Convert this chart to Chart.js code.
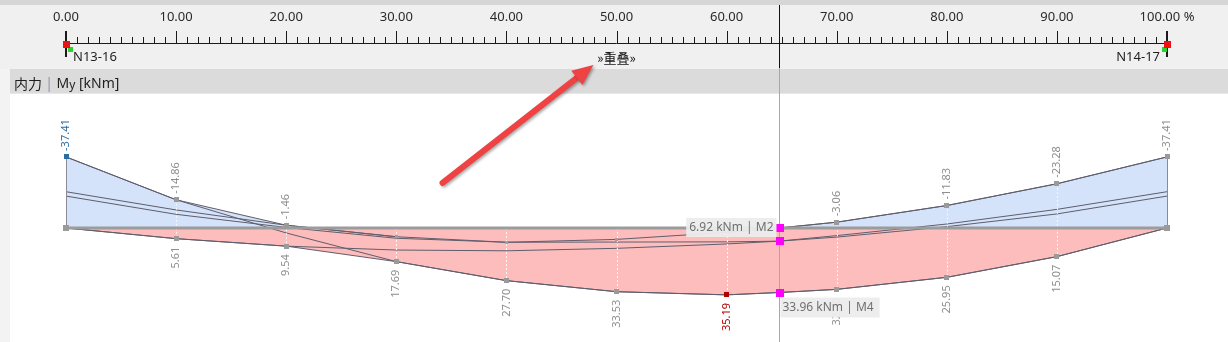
<!DOCTYPE html>
<html lang="zh">
<head>
<meta charset="utf-8">
<title>内力 | My [kNm]</title>
<script src="https://cdn.jsdelivr.net/npm/chart.js@4.4.1/dist/chart.umd.min.js"></script>
<style>
  html, body { margin: 0; padding: 0; background: #fff; overflow: hidden; }
  canvas { display: block; }
</style>
</head>
<body>
<canvas id="momentChart" width="1228" height="342"></canvas>
<script>
// positions along the member in % (64.75 is where the cursor sits)
const positions = [0, 10, 20, 30, 40, 50, 60, 64.75, 70, 80, 90, 100];

// load case moments My [kNm]
const caseM1 = [-19.1, -9.5, -1.46, 4.6, 7.5, 6.0, 2.3, 0, -3.06, -11.83, -23.28, -37.41];
const caseM2 = [0, 5.61, 9.54, 11.6, 12.0, 10.7, 8.4, 6.92, 4.8, -0.7, -7.4, -16.8];
const caseM3 = [-16.8, -7.2, -0.3, 5.4, 7.5, 7.4, 7.3, 6.92, 4.0, -2.1, -9.8, -19.1];
const caseM4 = [-37.41, -14.86, 2.6, 17.69, 27.70, 33.53, 35.19, 33.96, 32.3, 25.95, 15.07, 0];

// envelope
const envelopeMin = [-37.41, -14.86, -1.46, 4.6, 7.5, 6.0, 2.3, 0, -3.06, -11.83, -23.28, -37.41];
const envelopeMax = [0, 5.61, 9.54, 17.69, 27.70, 33.53, 35.19, 33.96, 32.3, 25.95, 15.07, 0];

// cursor read-out
const cursorPos = 64.75;
const cursorValues = [0, 6.92, 33.96];
const cursorCases = ['', 'M2', 'M4'];

// top ruler
const rulerTicks = [0, 10, 20, 30, 40, 50, 60, 70, 80, 90, 100];
const rulerLabels = ['0.00', '10.00', '20.00', '30.00', '40.00', '50.00', '60.00', '70.00', '80.00', '90.00', '100.00 %'];
const nodeNames = ['N13-16', 'N14-17'];

// callout arrow, in chart units [position %, kNm]
const arrowFrom = [34.2, -23.7];
const arrowTo = [47.9, -85.8];

const FONT = '"Noto Sans", "Noto Sans CJK SC", sans-serif';
const CJK = '"Noto Sans CJK SC", "Noto Sans", sans-serif';
const LINE = '#5e5e6c';
const BLUE_FILL = '#d4e2fa';
const RED_FILL = '#fdbdbd';

function toPoints(values) {
    return positions.map((p, i) => ({ x: p, y: values[i] }));
}

function square(ctx, x, y, size, color) {
    ctx.fillStyle = color;
    ctx.fillRect(Math.round(x - size / 2), Math.round(y - size / 2), size, size);
}

function rotatedLabel(ctx, text, x, y, align, color) {
    ctx.save();
    ctx.translate(x, y);
    ctx.rotate(-Math.PI / 2);
    ctx.textAlign = align;
    ctx.textBaseline = 'middle';
    ctx.fillStyle = color;
    ctx.fillText(text, 0, 0);
    ctx.restore();
}

const framePlugin = {
    id: 'frame',
    beforeDraw(chart) {
        const { ctx, width, height } = chart;
        const xs = chart.scales.x;
        ctx.save();
        // panels
        ctx.fillStyle = '#f0f0f0';
        ctx.fillRect(0, 0, width, height);
        ctx.fillStyle = '#d6d6d6';
        ctx.fillRect(0, 0, width, 5);
        ctx.fillStyle = '#f3f3f3';
        ctx.fillRect(0, 69, 10, height - 69);
        ctx.fillStyle = '#dbdbdb';
        ctx.fillRect(10, 69, width - 10, 24);
        ctx.fillStyle = '#e8e8e8';
        ctx.fillRect(10, 93, width - 10, 1);
        ctx.fillStyle = '#ffffff';
        ctx.fillRect(10, 94, width - 10, height - 94);

        // header text
        ctx.textBaseline = 'middle';
        ctx.textAlign = 'left';
        let tx = 14;
        const ty = 84;
        ctx.font = '14px ' + CJK;
        ctx.fillStyle = '#1e1e1e';
        ctx.fillText('内力 ', tx, ty);
        tx += ctx.measureText('内力 ').width;
        ctx.font = '14px ' + FONT;
        ctx.fillStyle = '#8f9aa8';
        ctx.fillText('|', tx, ty);
        tx += ctx.measureText('| ').width;
        ctx.fillStyle = '#1e1e1e';
        ctx.fillText('M', tx, ty);
        tx += ctx.measureText('M').width;
        ctx.font = '12px ' + FONT;
        ctx.fillText('y', tx, ty + 2);
        tx += ctx.measureText('y').width;
        ctx.font = '14px ' + FONT;
        ctx.fillText(' [kNm]', tx, ty);

        // ruler
        const x0 = xs.getPixelForValue(rulerTicks[0]);
        const x1 = xs.getPixelForValue(rulerTicks[rulerTicks.length - 1]);
        ctx.strokeStyle = '#1a1a1a';
        ctx.lineWidth = 1;
        ctx.beginPath();
        ctx.moveTo(x0, 43.5);
        ctx.lineTo(x1, 43.5);
        for (let p = rulerTicks[0]; p <= rulerTicks[rulerTicks.length - 1]; p++) {
            const px = Math.round(xs.getPixelForValue(p)) + 0.5;
            const top = p % 10 === 0 ? 31 : 37;
            ctx.moveTo(px, top);
            ctx.lineTo(px, 43.5);
        }
        ctx.stroke();
        ctx.lineWidth = 2;
        ctx.beginPath();
        [x0, x1].forEach(px => {
            ctx.moveTo(Math.round(px), 31);
            ctx.lineTo(Math.round(px), 57);
        });
        ctx.stroke();

        ctx.font = '13px ' + FONT;
        ctx.fillStyle = '#2a2a2a';
        ctx.textAlign = 'center';
        rulerTicks.forEach((t, i) => {
            ctx.fillText(rulerLabels[i], xs.getPixelForValue(t), 17);
        });

        // node markers
        square(ctx, x0 + 4, 49, 5, '#2fd12f');
        square(ctx, x1 - 3, 49, 5, '#2fd12f');
        square(ctx, x0, 44, 7, '#f01010');
        square(ctx, x1, 44, 7, '#f01010');
        ctx.fillStyle = '#1e1e1e';
        ctx.textAlign = 'left';
        ctx.fillText(nodeNames[0], x0 + 7, 57);
        ctx.textAlign = 'right';
        ctx.fillText(nodeNames[1], x1 - 7, 57);

        ctx.font = '13px ' + CJK;
        ctx.textAlign = 'center';
        ctx.fillStyle = '#111';
        ctx.fillText('»重叠»', xs.getPixelForValue(50), 58);
        ctx.restore();
    },
    afterDatasetsDraw(chart) {
        const { ctx, height } = chart;
        const xs = chart.scales.x;
        const ys = chart.scales.y;
        const y0 = ys.getPixelForValue(0);
        const first = 0;
        const last = positions.length - 1;
        const cursorIndex = positions.indexOf(cursorPos);
        ctx.save();

        // dotted ordinates
        ctx.strokeStyle = 'rgba(250,250,250,0.95)';
        ctx.lineWidth = 1;
        ctx.setLineDash([2, 2]);
        ctx.beginPath();
        positions.forEach((p, i) => {
            if (i === first || i === last || i === cursorIndex) return;
            const px = Math.round(xs.getPixelForValue(p)) + 0.5;
            const lo = Math.min(envelopeMin[i], 0);
            ctx.moveTo(px, ys.getPixelForValue(lo));
            ctx.lineTo(px, ys.getPixelForValue(envelopeMax[i]));
        });
        ctx.stroke();
        ctx.setLineDash([]);

        // end ordinates
        ctx.strokeStyle = '#8a8a98';
        ctx.beginPath();
        [first, last].forEach(i => {
            const px = Math.round(xs.getPixelForValue(positions[i])) + 0.5;
            ctx.moveTo(px, ys.getPixelForValue(envelopeMin[i]));
            ctx.lineTo(px, y0);
        });
        ctx.stroke();

        // member axis
        ctx.strokeStyle = '#9c9c9c';
        ctx.lineWidth = 3;
        ctx.beginPath();
        ctx.moveTo(xs.getPixelForValue(positions[first]), y0);
        ctx.lineTo(xs.getPixelForValue(positions[last]), y0);
        ctx.stroke();

        // cursor line
        const cx = Math.round(xs.getPixelForValue(cursorPos)) + 0.5;
        ctx.lineWidth = 1;
        ctx.strokeStyle = '#111';
        ctx.beginPath();
        ctx.moveTo(cx, 5);
        ctx.lineTo(cx, 68);
        ctx.stroke();
        ctx.strokeStyle = '#a8a8a8';
        ctx.beginPath();
        ctx.moveTo(cx, 68);
        ctx.lineTo(cx, height);
        ctx.stroke();

        // points and value labels
        const minVal = Math.min(...envelopeMin);
        const maxVal = Math.max(...envelopeMax);
        let minDone = false;
        let maxDone = false;
        ctx.font = '11px ' + FONT;
        square(ctx, xs.getPixelForValue(positions[first]), y0, 6, '#9a9a9a');
        square(ctx, xs.getPixelForValue(positions[last]), y0, 6, '#9a9a9a');
        positions.forEach((p, i) => {
            if (i === cursorIndex) return;
            const px = xs.getPixelForValue(p);
            const vMin = envelopeMin[i];
            if (vMin < 0) {
                const py = ys.getPixelForValue(vMin);
                let color = '#8e8e8e';
                if (vMin === minVal && !minDone) { color = '#2b6ca3'; minDone = true; }
                square(ctx, px, py, 5, color === '#8e8e8e' ? '#9a9a9a' : color);
                rotatedLabel(ctx, vMin.toFixed(2), px, py - 6, 'left', color);
            } else if (vMin > 0) {
                square(ctx, px, ys.getPixelForValue(vMin), 3, '#a0a0a0');
            }
            const vMax = envelopeMax[i];
            if (vMax > 0) {
                const py = ys.getPixelForValue(vMax);
                let color = '#8e8e8e';
                if (vMax === maxVal && !maxDone) { color = '#b30000'; maxDone = true; }
                square(ctx, px, py, 5, color === '#8e8e8e' ? '#9a9a9a' : color);
                rotatedLabel(ctx, vMax.toFixed(2), px, py + 8, 'right', color);
            }
        });

        // cursor read-out
        cursorValues.forEach(v => square(ctx, cx, ys.getPixelForValue(v), 8, '#ff00ff'));
        ctx.font = '12px ' + FONT;
        ctx.textBaseline = 'middle';
        const tagA = cursorValues[1].toFixed(2) + ' kNm | ' + cursorCases[1];
        const wA = ctx.measureText(tagA).width + 6;
        const yA = ys.getPixelForValue(cursorValues[0]);
        ctx.fillStyle = 'rgba(236,236,236,0.95)';
        ctx.fillRect(cx - 3 - wA, yA - 10, wA, 19);
        ctx.fillStyle = '#707070';
        ctx.textAlign = 'left';
        ctx.fillText(tagA, cx - 3 - wA + 3, yA);
        const tagB = cursorValues[2].toFixed(2) + ' kNm | ' + cursorCases[2];
        const wB = ctx.measureText(tagB).width + 8;
        const yB = ys.getPixelForValue(cursorValues[2]) + 5;
        ctx.fillStyle = 'rgba(236,236,236,0.95)';
        ctx.fillRect(cx + 1, yB, wB, 20);
        square(ctx, cx, ys.getPixelForValue(cursorValues[2]), 8, '#ff00ff');
        ctx.fillStyle = '#707070';
        ctx.fillText(tagB, cx + 3, yB + 10);

        // callout arrow
        const ax = xs.getPixelForValue(arrowFrom[0]);
        const ay = ys.getPixelForValue(arrowFrom[1]);
        const bx = xs.getPixelForValue(arrowTo[0]);
        const by = ys.getPixelForValue(arrowTo[1]);
        const ang = Math.atan2(by - ay, bx - ax);
        const headLen = 21;
        const headHalf = 9;
        const hx = bx - Math.cos(ang) * headLen;
        const hy = by - Math.sin(ang) * headLen;
        ctx.shadowColor = 'rgba(0,0,0,0.35)';
        ctx.shadowBlur = 3;
        ctx.shadowOffsetX = 1.5;
        ctx.shadowOffsetY = 1.5;
        ctx.strokeStyle = '#ef4242';
        ctx.fillStyle = '#ef4242';
        ctx.lineWidth = 6;
        ctx.lineCap = 'round';
        ctx.beginPath();
        ctx.moveTo(ax, ay);
        ctx.lineTo(hx + Math.cos(ang) * 4, hy + Math.sin(ang) * 4);
        ctx.stroke();
        ctx.beginPath();
        ctx.moveTo(bx, by);
        ctx.lineTo(hx + Math.sin(ang) * headHalf, hy - Math.cos(ang) * headHalf);
        ctx.lineTo(hx - Math.sin(ang) * headHalf, hy + Math.cos(ang) * headHalf);
        ctx.closePath();
        ctx.fill();
        ctx.restore();
    }
};

const lineStyle = {
    borderColor: LINE,
    borderWidth: 1,
    pointRadius: 0,
    fill: false,
    order: 1
};

new Chart(document.getElementById('momentChart'), {
    type: 'line',
    data: {
        datasets: [
            {
                label: 'max',
                data: toPoints(envelopeMax),
                borderColor: LINE,
                borderWidth: 1,
                pointRadius: 0,
                fill: { target: 'origin', above: BLUE_FILL, below: RED_FILL },
                order: 5
            },
            {
                label: 'min',
                data: toPoints(envelopeMin),
                borderColor: LINE,
                borderWidth: 1,
                pointRadius: 0,
                segment: {
                    borderColor: c => (c.p0.parsed.y > 0 && c.p1.parsed.y > 0) ? 'rgba(0,0,0,0)' : LINE
                },
                fill: { target: 'origin', above: BLUE_FILL, below: RED_FILL },
                order: 4
            },
            { label: 'M1', data: toPoints(caseM1), ...lineStyle },
            { label: 'M2', data: toPoints(caseM2), ...lineStyle },
            { label: 'M3', data: toPoints(caseM3), ...lineStyle },
            { label: 'M4', data: toPoints(caseM4), ...lineStyle }
        ]
    },
    options: {
        responsive: false,
        animation: false,
        devicePixelRatio: 1,
        layout: { padding: 0 },
        plugins: {
            legend: { display: false },
            tooltip: { enabled: false }
        },
        scales: {
            x: { type: 'linear', min: -5.995, max: 105.54, display: false },
            y: { type: 'linear', reverse: true, min: -120, max: 60, display: false }
        }
    },
    plugins: [framePlugin]
});
</script>
</body>
</html>
